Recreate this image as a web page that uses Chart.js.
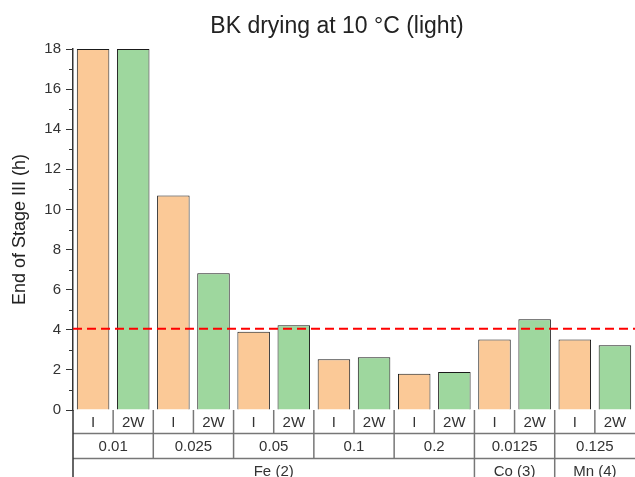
<!DOCTYPE html>
<html>
<head>
<meta charset="utf-8">
<script src="https://cdn.jsdelivr.net/npm/chart.js@4"></script>
<style>
  html, body { margin: 0; padding: 0; background: #fff; }
  canvas { display: block; }
</style>
</head>
<body>
<canvas id="dryChart" width="635" height="477"></canvas>
<script>
// series and axis data
const treatments = ["I", "2W"];
const concentrations = ["0.01", "0.025", "0.05", "0.1", "0.2", "0.0125", "0.125"];
const elements = ["Fe (2)", "Co (3)", "Mn (4)"];
const elementGroupCounts = [5, 1, 1]; // concentrations per element
const valuesI = [18, 10.7, 3.9, 2.53, 1.81, 3.52, 3.52];
const values2W = [18, 6.82, 4.22, 2.63, 1.9, 4.52, 3.23];
const yTicks = [0, 2, 4, 6, 8, 10, 12, 14, 16, 18];
const stageLimit = 4.05;

const FONT = "'Liberation Sans', Arial, sans-serif";
const orange = "#fbc997";
const green = "#9ed79e";

// one bar per treatment inside each concentration
const labels = [];
const values = [];
const colors = [];
concentrations.forEach((c, i) => {
  labels.push(c + " " + treatments[0]);
  values.push(valuesI[i]);
  colors.push(orange);
  labels.push(c + " " + treatments[1]);
  values.push(values2W[i]);
  colors.push(green);
});

const minorTicks = {
  id: "minorTicks",
  afterDraw(chart) {
    const y = chart.scales.y;
    const ctx = chart.ctx;
    const x0 = chart.chartArea.left;
    ctx.save();
    ctx.strokeStyle = "#333";
    ctx.lineWidth = 1;
    for (let v = 1; v < 18; v += 2) {
      const py = Math.round(y.getPixelForValue(v)) + 0.5;
      ctx.beginPath();
      ctx.moveTo(x0 - 4, py);
      ctx.lineTo(x0, py);
      ctx.stroke();
    }
    ctx.restore();
  }
};

const limitLine = {
  id: "limitLine",
  afterDatasetsDraw(chart) {
    const { ctx, chartArea } = chart;
    const py = chart.scales.y.getPixelForValue(stageLimit);
    ctx.save();
    ctx.strokeStyle = "#ff0000";
    ctx.lineWidth = 2;
    ctx.setLineDash([9, 5]);
    ctx.beginPath();
    ctx.moveTo(chartArea.left, py);
    ctx.lineTo(chartArea.right, py);
    ctx.stroke();
    ctx.restore();
  }
};

// grouped category table under the bars
const categoryTable = {
  id: "categoryTable",
  afterDraw(chart) {
    const { ctx, chartArea } = chart;
    const x = chart.scales.x;
    const n = labels.length;
    const w = (chartArea.right - chartArea.left) / n;
    const edge = (i) => chartArea.left + i * w;
    const r0 = chartArea.bottom, r1 = r0 + 23.5, r2 = r1 + 25, r3 = 480;

    ctx.save();
    ctx.strokeStyle = "#777";
    ctx.lineWidth = 1.5;
    const line = (x1, y1, x2, y2) => {
      ctx.beginPath();
      ctx.moveTo(x1, y1);
      ctx.lineTo(x2, y2);
      ctx.stroke();
    };
    line(chartArea.left, r1, chartArea.right, r1);
    line(chartArea.left, r2, chartArea.right, r2);
    // treatment cells
    for (let i = 1; i < n; i++) line(edge(i), r0, edge(i), r1);
    // concentration cells
    for (let i = 1; i < concentrations.length; i++) line(edge(i * 2), r1, edge(i * 2), r2);
    // element cells
    let k = 0;
    elementGroupCounts.forEach((cnt) => {
      k += cnt * 2;
      if (k < n) line(edge(k), r2, edge(k), r3);
    });
    ctx.strokeStyle = "#333";
    line(chartArea.left, r0, chartArea.left, r3);

    ctx.fillStyle = "#333";
    ctx.textAlign = "center";
    ctx.textBaseline = "middle";
    ctx.font = "15px " + FONT;
    for (let i = 0; i < n; i++) {
      ctx.fillText(treatments[i % 2], x.getPixelForValue(i), (r0 + r1) / 2 + 1);
    }
    concentrations.forEach((c, i) => {
      ctx.fillText(c, (edge(i * 2) + edge(i * 2 + 2)) / 2, (r1 + r2) / 2 + 1);
    });
    let start = 0;
    elements.forEach((e, i) => {
      const end = start + elementGroupCounts[i] * 2;
      ctx.fillText(e, (edge(start) + edge(end)) / 2, r2 + 13);
      start = end;
    });
    ctx.restore();
  }
};

const plotTitle = {
  id: "plotTitle",
  afterDraw(chart) {
    const ctx = chart.ctx;
    ctx.save();
    ctx.fillStyle = "#222";
    ctx.font = "23px " + FONT;
    ctx.textAlign = "center";
    ctx.textBaseline = "alphabetic";
    ctx.fillText("BK drying at 10 \u00b0C (light)", 337, 33);
    ctx.restore();
  }
};

new Chart(document.getElementById("dryChart"), {
  type: "bar",
  data: {
    labels: labels,
    datasets: [
      {
        data: values,
        backgroundColor: colors,
        borderColor: "#1a1a1a",
        borderWidth: 1,
        categoryPercentage: 1,
        barPercentage: 0.81,
      },
    ],
  },
  options: {
    responsive: false,
    animation: false,
    layout: { padding: { left: 0, right: 0, top: 49, bottom: 67 } },
    plugins: {
      legend: { display: false },
      tooltip: { enabled: false },
    },
    scales: {
      x: { display: false },
      y: {
        min: 0,
        max: 18,
        afterFit(scale) {
          scale.width = 73;
        },
        afterBuildTicks(scale) {
          scale.ticks = yTicks.map((v) => ({ value: v }));
        },
        border: { display: true, color: "#333", width: 1.5 },
        grid: {
          drawOnChartArea: false,
          drawTicks: true,
          tickLength: 7,
          tickColor: "#333",
        },
        ticks: {
          padding: 5,
          color: "#333",
          font: { family: FONT, size: 15 },
        },
        title: {
          display: true,
          text: "End of Stage III (h)",
          color: "#222",
          font: { family: FONT, size: 18 },
          padding: { top: 9, bottom: 0 },
        },
      },
    },
  },
  plugins: [minorTicks, limitLine, categoryTable, plotTitle],
});
</script>
</body>
</html>
